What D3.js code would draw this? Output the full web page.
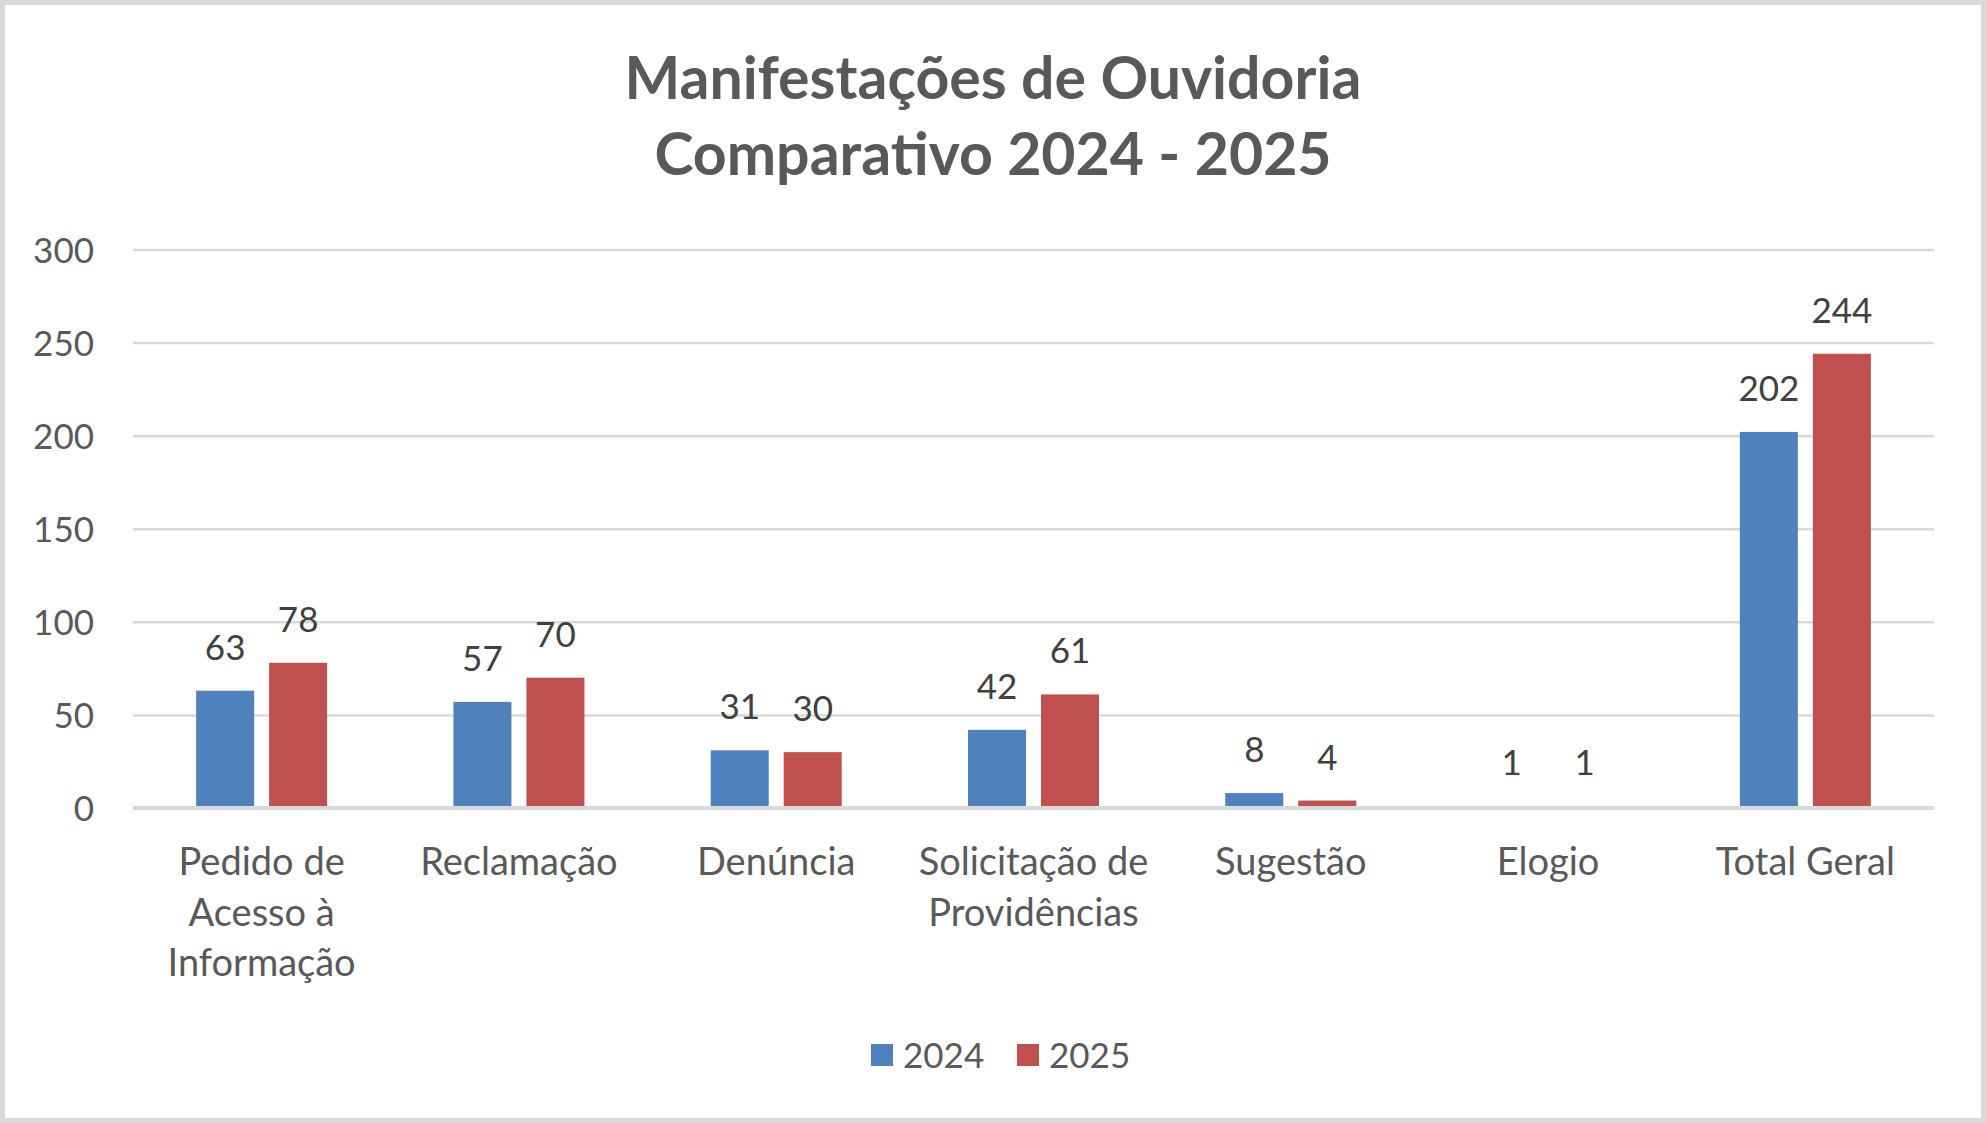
<!DOCTYPE html>
<html lang="pt">
<head>
<meta charset="utf-8">
<title>Manifestações de Ouvidoria</title>
<script src="https://d3js.org/d3.v7.min.js"></script>
<style>
body { margin: 0; background: #fff; }
text { font-family: Lato, "Open Sans", sans-serif; }
.grid line { stroke: #d9d9d9; stroke-width: 2.5px; }
.grid path { display: none; }
.yaxis text { font-size: 35px; fill: #595959; }
.yaxis path, .yaxis line { display: none; }
</style>
</head>
<body>
<script>

// data
var categories = ["Pedido de\nAcesso à\nInformação", "Reclamação", "Denúncia",
                  "Solicitação de\nProvidências", "Sugestão", "Elogio", "Total Geral"];
var years = ["2024", "2025"];
var values2024 = [63, 57, 31, 42, 8, 1, 202];
var values2025 = [78, 70, 30, 61, 4, 1, 244];
var yTicks = [0, 50, 100, 150, 200, 250, 300];
var colors = ["#4f81bd", "#c0504d"];

var W = 1986, H = 1123;
var plot = {left: 133, right: 1934, top: 249.5, bottom: 808};

var svg = d3.select("body").append("svg")
    .attr("width", W)
    .attr("height", H);

// background + border
svg.append("rect")
    .attr("x", 2.5).attr("y", 2.5)
    .attr("width", W - 5).attr("height", H - 5)
    .attr("fill", "#fff")
    .attr("stroke", "#d9d9d9")
    .attr("stroke-width", 5);

// title
var title = svg.append("text")
    .attr("text-anchor", "middle")
    .attr("fill", "#595959")
    .style("font-weight", "bold")
    .style("font-size", "59px");
title.append("tspan").attr("x", W / 2).attr("y", 99).text("Manifestações de Ouvidoria");
title.append("tspan").attr("x", W / 2).attr("y", 175).text("Comparativo 2024 - 2025");

// scales
var x0 = d3.scaleBand().domain(categories).range([plot.left, plot.right]);
var x1 = d3.scaleBand().domain(years).range([0, 131]).paddingInner(0.2055);
var y = d3.scaleLinear().domain([0, 300]).range([plot.bottom, plot.top]);

// gridlines
svg.append("g")
    .attr("class", "grid")
    .attr("transform", "translate(" + plot.left + ",0)")
    .call(d3.axisLeft(y).tickValues(yTicks).tickSize(-(plot.right - plot.left)).tickFormat(""));

// y axis labels
svg.append("g")
    .attr("class", "yaxis")
    .attr("transform", "translate(" + (plot.left - 39) + ",0)")
    .call(d3.axisLeft(y).tickValues(yTicks).tickSize(0).tickPadding(0))
    .selectAll("text")
    .attr("dy", "0.36em");

// table for bars
var rows = [];
categories.forEach(function(c, i) {
  rows.push({cat: c, year: "2024", value: values2024[i]});
  rows.push({cat: c, year: "2025", value: values2025[i]});
});

function barX(d) {
  return x0(d.cat) + (x0.bandwidth() - 131) / 2 + x1(d.year);
}

svg.selectAll(".bar")
    .data(rows)
    .enter().append("rect")
    .attr("class", "bar")
    .attr("x", barX)
    .attr("y", function(d) { return y(d.value); })
    .attr("width", x1.bandwidth())
    .attr("height", function(d) { return y(0) - y(d.value); })
    .attr("fill", function(d) { return colors[years.indexOf(d.year)]; });

// horizontal axis line on top of the bars
svg.append("line")
    .attr("x1", plot.left).attr("x2", plot.right)
    .attr("y1", y(0)).attr("y2", y(0))
    .attr("stroke", "#d9d9d9")
    .attr("stroke-width", 4);

// data labels
svg.selectAll(".lbl")
    .data(rows)
    .enter().append("text")
    .attr("class", "lbl")
    .attr("x", function(d) { return barX(d) + x1.bandwidth() / 2; })
    .attr("y", function(d) { return y(d.value) - 31; })
    .attr("text-anchor", "middle")
    .attr("fill", "#404040")
    .style("font-size", "35px")
    .text(function(d) { return d.value; });

// category labels
var catLabels = svg.selectAll(".cat")
    .data(categories)
    .enter().append("text")
    .attr("class", "cat")
    .attr("text-anchor", "middle")
    .attr("fill", "#595959")
    .style("font-size", "38px");

catLabels.each(function(c) {
  var t = d3.select(this);
  c.split("\n").forEach(function(line, k) {
    t.append("tspan")
      .attr("x", x0(c) + x0.bandwidth() / 2)
      .attr("y", 875 + k * 50.7)
      .text(line);
  });
});

// legend
var legend = svg.selectAll(".legend")
    .data(years)
    .enter().append("g")
    .attr("class", "legend")
    .attr("transform", function(d, i) { return "translate(" + (871 + i * 146) + ",1044)"; });

legend.append("rect")
    .attr("width", 22).attr("height", 22)
    .attr("fill", function(d, i) { return colors[i]; });

legend.append("text")
    .attr("x", 32).attr("y", 24)
    .attr("fill", "#595959")
    .style("font-size", "35px")
    .text(function(d) { return d; });

</script>
</body>
</html>
